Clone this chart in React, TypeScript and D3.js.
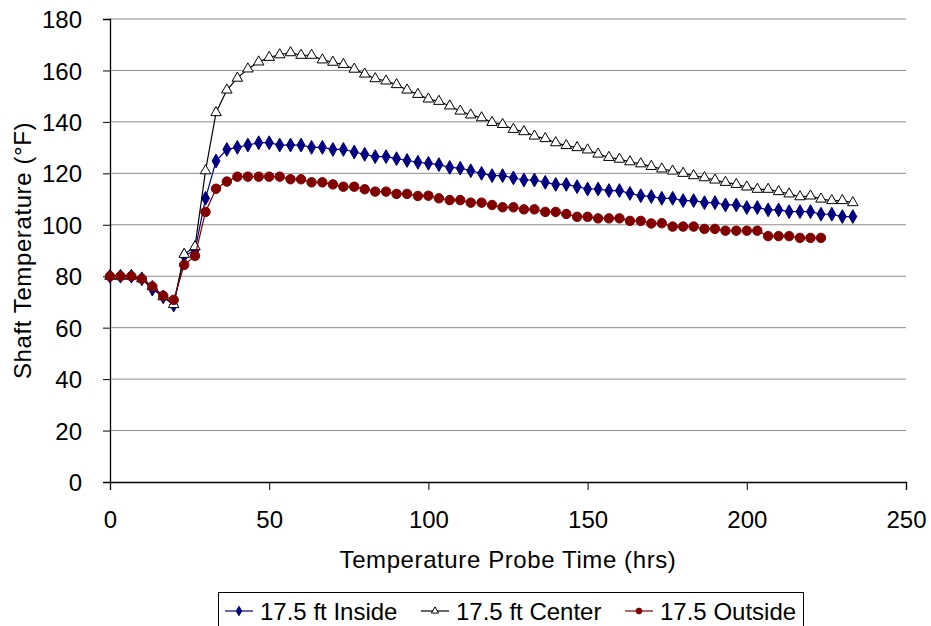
import { useRef, useEffect } from "react";
import {
  select,
  line,
  scaleLinear,
  axisBottom,
  axisLeft,
  symbol,
  symbolDiamond,
  symbolTriangle,
  symbolCircle,
} from "d3";

// Probe times (hrs)
const hours = [
  0, 3.3, 6.7, 10, 13.3, 16.7, 20, 23.3, 26.7, 30, 33.3, 36.7, 40, 43.3, 46.7,
  50, 53.3, 56.7, 60, 63.3, 66.7, 70, 73.3, 76.7, 80, 83.3, 86.7, 90, 93.3,
  96.7, 100, 103.3, 106.7, 110, 113.3, 116.7, 120, 123.3, 126.7, 130, 133.3,
  136.7, 140, 143.3, 146.7, 150, 153.3, 156.7, 160, 163.3, 166.7, 170, 173.3,
  176.7, 180, 183.3, 186.7, 190, 193.3, 196.7, 200, 203.3, 206.7, 210, 213.3,
  216.7, 220, 223.3, 226.7, 230, 233.3,
];

const inside = [
  80, 80, 80, 79, 75, 72, 68.8, 88, 90, 110.3, 124.8, 129.3, 130.1, 131, 131.9,
  131.9, 131, 131, 131, 130.1, 130.1, 129.3, 129.3, 128.3, 127.4, 126.5, 126.5,
  125.7, 125, 124.3, 123.9, 123.4, 122.3, 122, 121, 120, 119.1, 119.1, 118.2,
  117.4, 117.4, 116.5, 115.7, 115.7, 114.8, 113.9, 113.9, 113.3, 113.3, 112.2,
  111.3, 111, 110.3, 110.3, 109.4, 109.4, 108.6, 108.6, 107.7, 107.7, 106.7,
  106.7, 105.8, 105.8, 105.1, 105.1, 105.1, 104.1, 104.1, 103.2, 103.2,
];

const center = [
  80, 80, 80, 79, 76, 72, 69, 88.5, 91.5, 121, 143.6, 152.4, 157, 160.6, 163.3,
  165.1, 166.1, 166.9, 165.9, 165.9, 164.1, 163.2, 162.3, 160.5, 158.6, 156.8,
  155.9, 154.5, 152.4, 150.7, 148.9, 148, 146.2, 144.2, 142.7, 141.6, 139.8, 139,
  137.1, 136.2, 134.5, 133.5, 131.9, 130.8, 130, 129.1, 127.5, 126.2, 125.5,
  124.5, 123.7, 122.7, 121.7, 120.9, 120, 119.1, 118.3, 117.4, 116.5, 115.7,
  114.7, 113.8, 113.8, 112.9, 112, 110.9, 111.2, 110, 109.4, 109.4, 108.6,
];

const outside = [
  80, 80, 80, 79, 76, 72.4, 70.8, 84.4, 87.9, 105, 114, 116.8, 118.7, 118.7,
  118.7, 118.7, 118.7, 117.7, 117.7, 116.5, 116.5, 115.7, 114.8, 114.8, 113.8,
  112.9, 112.9, 112, 112, 111.2, 111.3, 110.3, 109.6, 109.6, 108.6, 108.6, 107.7,
  106.8, 106.8, 106, 106, 105, 105, 104.2, 103.1, 103.1, 102.5, 102.5, 102.5,
  101.5, 101.5, 100.5, 100.6, 99.3, 99.3, 99.3, 98.4, 98.4, 97.7, 97.7, 97.7,
  97.7, 95.6, 95.6, 95.6, 94.9, 94.9, 94.9,
];

const seriesNames = ["17.5 ft Inside", "17.5 ft Center", "17.5 Outside"];
const xTicks = [0, 50, 100, 150, 200, 250];
const yTicks = [0, 20, 40, 60, 80, 100, 120, 140, 160, 180];

const FONT = "'Liberation Sans', Arial, sans-serif";

type Pt = { t: number; v: number };

export default function App() {
  const svgRef = useRef<SVGSVGElement | null>(null);

  useEffect(() => {
    const svg = select(svgRef.current);
    svg.selectAll("*").remove();

    // plot area
    const left = 110;
    const right = 906;
    const top = 19;
    const bottom = 482;

    const x = scaleLinear().domain([0, 250]).range([left, right]);
    const y = scaleLinear().domain([0, 180]).range([bottom, top]);

    // gridlines
    svg
      .append("g")
      .selectAll("line")
      .data(yTicks.filter((d) => d > 0))
      .join("line")
      .attr("x1", left)
      .attr("x2", right)
      .attr("y1", (d) => y(d))
      .attr("y2", (d) => y(d))
      .attr("stroke", "#8c8c8c")
      .attr("stroke-width", 1);

    // axes
    const yAxis = svg
      .append("g")
      .attr("transform", `translate(${left},0)`)
      .call(axisLeft(y).tickValues(yTicks).tickSize(7).tickPadding(21));
    const xAxis = svg
      .append("g")
      .attr("transform", `translate(0,${bottom})`)
      .call(axisBottom(x).tickValues(xTicks).tickSize(8).tickPadding(21));

    [xAxis, yAxis].forEach((g) => {
      g.select(".domain").attr("stroke", "#000").attr("stroke-width", 1.3);
      g.selectAll(".tick line").attr("stroke", "#000");
      g.selectAll("text")
        .attr("font-family", FONT)
        .attr("font-size", 24)
        .attr("fill", "#000");
    });
    yAxis.selectAll("text").attr("dy", "0.36em");

    // axis titles
    svg
      .append("text")
      .attr("x", (left + right) / 2)
      .attr("y", 568)
      .attr("text-anchor", "middle")
      .attr("font-family", FONT)
      .attr("font-size", 24)
      .attr("letter-spacing", 0.6)
      .text("Temperature Probe Time (hrs)");

    svg
      .append("text")
      .attr("transform", `translate(31,${(top + bottom) / 2}) rotate(-90)`)
      .attr("text-anchor", "middle")
      .attr("font-family", FONT)
      .attr("font-size", 24)
      .attr("letter-spacing", 0.6)
      .text("Shaft Temperature (°F)");

    const data: Pt[][] = [inside, center, outside].map((vals) =>
      vals.map((v, i) => ({ t: hours[i], v }))
    );
    const colors = ["#000080", "#000000", "#800000"];
    const shapes = [symbolDiamond, symbolTriangle, symbolCircle];
    const sizes = [55, 48, 70];
    const legendSizes = [26, 22, 26];
    const fills = ["#000080", "#ffffff", "#800000"];

    const lineGen = line<Pt>()
      .x((d) => x(d.t))
      .y((d) => y(d.v));

    data.forEach((pts, si) => {
      const g = svg.append("g");
      g.append("path")
        .datum(pts)
        .attr("d", lineGen)
        .attr("fill", "none")
        .attr("stroke", colors[si])
        .attr("stroke-width", 1.2);
      g.selectAll("path.mk")
        .data(pts)
        .join("path")
        .attr("class", "mk")
        .attr("d", symbol(shapes[si], sizes[si])())
        .attr("transform", (d) => `translate(${x(d.t)},${y(d.v)})`)
        .attr("fill", fills[si])
        .attr("stroke", colors[si])
        .attr("stroke-width", 1);
    });

    // legend
    const lg = svg.append("g");
    lg.append("rect")
      .attr("x", 218.5)
      .attr("y", 592.5)
      .attr("width", 585)
      .attr("height", 40)
      .attr("fill", "#fff")
      .attr("stroke", "#000");
    const itemX = [225, 421, 625];
    seriesNames.forEach((name, i) => {
      const cy = 611;
      lg.append("line")
        .attr("x1", itemX[i])
        .attr("x2", itemX[i] + 28)
        .attr("y1", cy)
        .attr("y2", cy)
        .attr("stroke", colors[i])
        .attr("stroke-width", 1.2);
      lg.append("path")
        .attr("d", symbol(shapes[i], legendSizes[i])())
        .attr("transform", `translate(${itemX[i] + 14},${cy})`)
        .attr("fill", fills[i])
        .attr("stroke", colors[i]);
      lg.append("text")
        .attr("x", itemX[i] + 35)
        .attr("y", 620)
        .attr("font-family", FONT)
        .attr("font-size", 24)
        .text(name);
    });
  }, []);

  return (
    <svg
      ref={svgRef}
      width={931}
      height={626}
      style={{ position: "absolute", left: 0, top: 0, background: "#fff" }}
    />
  );
}
